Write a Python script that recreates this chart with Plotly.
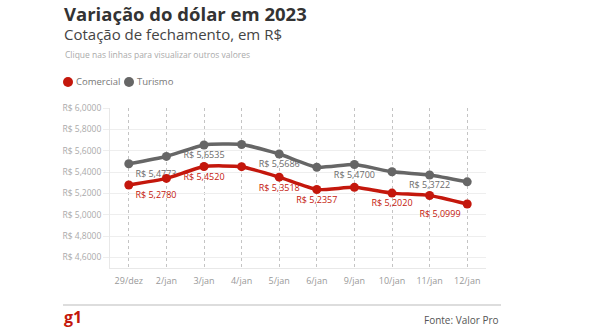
import plotly.graph_objects as go

# ---- data ----
categories = ["29/dez", "2/jan", "3/jan", "4/jan", "5/jan", "6/jan", "9/jan", "10/jan", "11/jan", "12/jan"]
comercial = [5.2780, 5.3400, 5.4520, 5.4500, 5.3518, 5.2357, 5.2560, 5.2020, 5.1800, 5.0999]
turismo = [5.4773, 5.5460, 5.6535, 5.6580, 5.5686, 5.4450, 5.4700, 5.4020, 5.3722, 5.3080]
comercial_labels = ["R$ 5,2780", "", "R$ 5,4520", "", "R$ 5,3518", "R$ 5,2357", "", "R$ 5,2020", "", "R$ 5,0999"]
turismo_labels = ["R$ 5,4773", "", "R$ 5,6535", "", "R$ 5,5686", "", "R$ 5,4700", "", "R$ 5,3722", ""]
comercial_pos = ["bottom right", "bottom center", "bottom center", "bottom center", "bottom center",
                 "bottom center", "bottom center", "bottom center", "bottom center", "bottom left"]
turismo_pos = ["bottom right", "bottom center", "bottom center", "bottom center", "bottom center",
               "bottom center", "bottom center", "bottom center", "bottom center", "bottom center"]
y_tickvals = [4.6, 4.8, 5.0, 5.2, 5.4, 5.6, 5.8, 6.0]
y_ticktext = ["R$ 4,6000", "R$ 4,8000", "R$ 5,0000", "R$ 5,2000", "R$ 5,4000", "R$ 5,6000", "R$ 5,8000", "R$ 6,0000"]

RED = "#c4170c"
GRAY = "#666666"
FONT = "Open Sans"

W, H = 590, 330
L, R, T, B = 110, 104, 108, 62
PW, PH = W - L - R, H - T - B


def px(x):
    return (x - L) / PW


def py(y):
    return (H - B - y) / PH


fig = go.Figure()
fig.add_trace(go.Scatter(
    x=categories, y=turismo, mode="lines+markers+text", name="Turismo",
    line=dict(color=GRAY, width=3.5, shape="spline", smoothing=0.5),
    marker=dict(color=GRAY, size=9),
    text=turismo_labels, textposition=turismo_pos,
    textfont=dict(family=FONT, size=9, color="#6b6b6b"),
    showlegend=False, cliponaxis=False,
))
fig.add_trace(go.Scatter(
    x=categories, y=comercial, mode="lines+markers+text", name="Comercial",
    line=dict(color=RED, width=3.5, shape="spline", smoothing=0.5),
    marker=dict(color=RED, size=9),
    text=comercial_labels, textposition=comercial_pos,
    textfont=dict(family=FONT, size=9, color=RED),
    showlegend=False, cliponaxis=False,
))

annotations = [
    dict(text="<b>Variação do dólar em 2023</b>", x=px(63), y=py(0), yanchor="top", borderpad=0,
         font=dict(size=18.5, color="#333333")),
    dict(text="Cotação de fechamento, em R$", x=px(63), y=py(34), borderpad=0,
         font=dict(size=15, color="#444444")),
    dict(text="Clique nas linhas para visualizar outros valores", x=px(63), y=py(55), font=dict(size=8.5, color="#aaaaaa")),
    dict(text="Comercial", x=px(74), y=py(82), font=dict(size=9.5, color="#777777")),
    dict(text="Turismo", x=px(135), y=py(82), font=dict(size=9.5, color="#777777")),
    dict(text="<b>g1</b>", x=px(62), y=py(317), font=dict(size=16, color=RED)),
]
for a in annotations:
    a.setdefault("yanchor", "middle")
    a.update(xref="paper", yref="paper", xanchor="left", showarrow=False)
    a["font"]["family"] = FONT
annotations.append(dict(text="Fonte: Valor Pro", x=px(501), y=py(320), xref="paper", yref="paper",
                        xanchor="right", yanchor="middle", showarrow=False,
                        font=dict(family=FONT, size=10, color="#555555")))

shapes = [
    dict(type="circle", xref="paper", yref="paper", xsizemode="pixel", ysizemode="pixel",
         xanchor=px(68), yanchor=py(82), x0=-5, x1=5, y0=-5, y1=5,
         fillcolor=RED, line=dict(width=0)),
    dict(type="circle", xref="paper", yref="paper", xsizemode="pixel", ysizemode="pixel",
         xanchor=px(129), yanchor=py(82), x0=-5, x1=5, y0=-5, y1=5,
         fillcolor=GRAY, line=dict(width=0)),
    dict(type="line", xref="paper", yref="paper", x0=px(63), x1=px(501), y0=py(305), y1=py(305),
         line=dict(color="#dddddd", width=2)),
]

fig.update_layout(
    width=W, height=H,
    margin=dict(l=L, r=R, t=T, b=B),
    paper_bgcolor="white", plot_bgcolor="white",
    font=dict(family=FONT),
    annotations=annotations, shapes=shapes,
    xaxis=dict(
        type="category", range=[-0.5, 9.5],
        showgrid=True, gridcolor="#c4c4c4", griddash="dot", gridwidth=1,
        showline=True, linecolor="#e8e8e8", linewidth=1,
        ticks="", ticklabelstandoff=4,
        tickfont=dict(family=FONT, size=9, color="#999999"),
        fixedrange=True, zeroline=False,
    ),
    yaxis=dict(
        range=[4.5, 6.0], tickvals=y_tickvals, ticktext=y_ticktext,
        showgrid=True, gridcolor="#eeeeee", gridwidth=1,
        showline=True, linecolor="#e8e8e8", linewidth=1,
        ticks="outside", ticklen=6, tickcolor="#eeeeee",
        tickfont=dict(family=FONT, size=8.5, color="#aaaaaa"),
        fixedrange=True, zeroline=False,
    ),
)

fig.write_html("out.html")
